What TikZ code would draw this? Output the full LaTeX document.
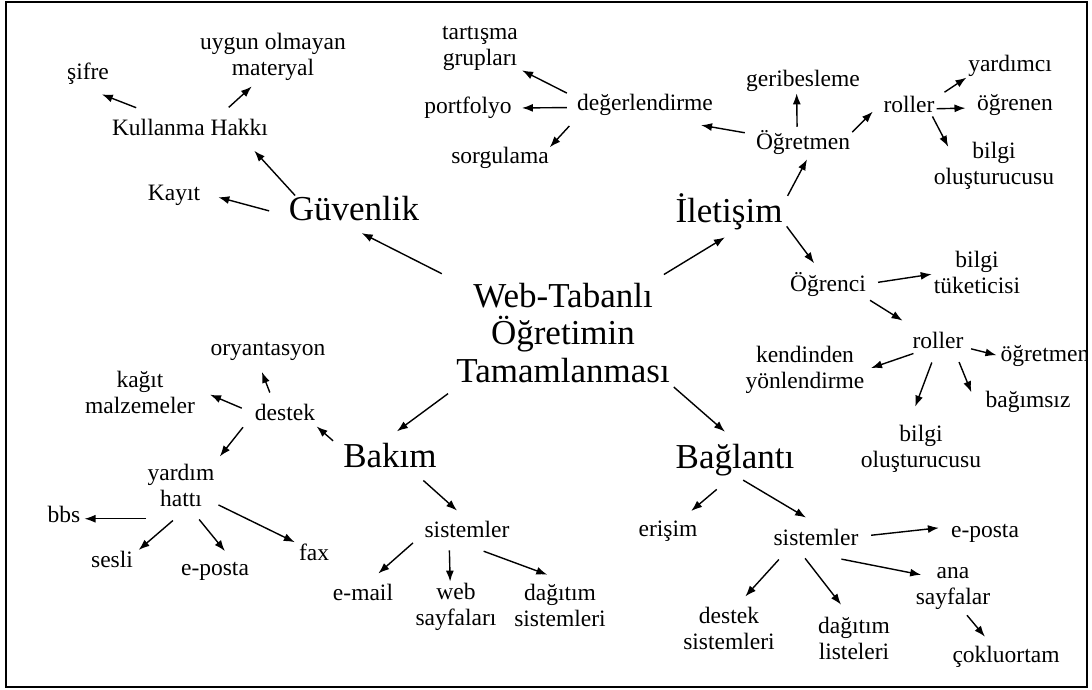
\documentclass[tikz,border=0pt]{standalone}
\usepackage{fontspec}
\setmainfont{Liberation Serif}
\usetikzlibrary{arrows.meta}

\begin{document}
\begin{tikzpicture}[x=1pt, y=-1pt,
    lbl/.style={font=\fontsize{23.5}{26}\selectfont, align=center, inner sep=4pt},
    big/.style={font=\fontsize{35}{37.5}\selectfont, align=center, inner sep=4pt},
    arr/.style={-{Latex[length=11pt, width=8pt]}, line width=1.4pt}]
    \useasboundingbox (0,0) rectangle (1092,689);

    \begin{scope}
    \clip (6,2) rectangle (1087,687);

    % Nodes
    \node (web) [big] at (563,333) {Web-Tabanlı\\Öğretimin\\Tamamlanması};
    \node (guvenlik) [big] at (354,209) {Güvenlik};
    \node (iletisim) [big] at (729,212) {İletişim};
    \node (bakim) [big] at (390,456) {Bakım};
    \node (baglanti) [big] at (735,460) {Bağlantı};

    \node (kullanma) [lbl] at (190,127) {Kullanma Hakkı};
    \node (sifre) [lbl] at (88,74) {şifre};
    \node (uygun) [lbl] at (273,57) {uygun olmayan\\materyal};
    \node (kayit) [lbl] at (174,195) {Kayıt};

    \node (degerlendirme) [lbl] at (645,105) {değerlendirme};
    \node (tartisma) [lbl] at (480,48) {tartışma\\grupları};
    \node (portfolyo) [lbl] at (468,108) {portfolyo};
    \node (sorgulama) [lbl] at (500,158) {sorgulama};
    \node (ogretmen) [lbl] at (803,143) {Öğretmen};
    \node (geribesleme) [lbl] at (803,81) {geribesleme};
    \node (rollerA) [lbl] at (909,104) {roller};
    \node (yardimci) [lbl] at (1010,66) {yardımcı};
    \node (ogrenen) [lbl] at (1015,105) {öğrenen};
    \node (bilgiA) [lbl] at (994,166) {bilgi\\oluşturucusu};
    \node (ogrenci) [lbl] at (828,285) {Öğrenci};
    \node (tuketici) [lbl] at (977,272) {bilgi\\tüketicisi};
    \node (rollerB) [lbl] at (938,340) {roller};
    \node (ogretmenB) [lbl] at (1045,356) {öğretmen};
    \node (kendinden) [lbl] at (805,370) {kendinden\\yönlendirme};
    \node (bilgiB) [lbl] at (921,449) {bilgi\\oluşturucusu};
    \node (bagimsiz) [lbl] at (1028,402) {bağımsız};

    \node (destek) [lbl] at (285,412) {destek};
    \node (oryantasyon) [lbl] at (268,351) {oryantasyon};
    \node (kagit) [lbl] at (140,392) {kağıt\\malzemeler};
    \node (yardim) [lbl] at (181,485) {yardım\\hattı};
    \node (bbs) [lbl] at (64,514) {bbs};
    \node (sesli) [lbl] at (112,559) {sesli};
    \node (epostaA) [lbl] at (215,571) {e-posta};
    \node (fax) [lbl] at (314,552) {fax};
    \node (sistemlerA) [lbl] at (467,529) {sistemler};
    \node (email) [lbl] at (363,592) {e-mail};
    \node (webs) [lbl] at (456,607) {web\\sayfaları};
    \node (dagitimA) [lbl] at (560,605) {dağıtım\\sistemleri};

    \node (erisim) [lbl] at (668,531) {erişim};
    \node (sistemlerB) [lbl] at (816,537) {sistemler};
    \node (epostaB) [lbl] at (985,533) {e-posta};
    \node (anasayfa) [lbl] at (953,588) {ana\\sayfalar};
    \node (cokluortam) [lbl] at (1006,657) {çokluortam};
    \node (destekS) [lbl] at (729,628) {destek\\sistemleri};
    \node (dagitimB) [lbl] at (854,638) {dağıtım\\listeleri};

    % Center
    \draw [arr, shorten <=11.7pt, shorten >=16.8pt] (web.154.7) -- (guvenlik.246.6);
    \draw [arr, shorten <=8.6pt, shorten >=5.7pt] (web.30) -- (iletisim.272.3);
    \draw [arr, shorten <=11.1pt, shorten >=13.7pt] (web.207.4) -- (bakim.104.4);
    \draw [arr, shorten >=12.4pt] (web.334.2) -- (baglanti.92);

    % Guvenlik
    \draw [arr, shorten <=-4pt, shorten >=15.2pt] (guvenlik.165.9) -- (kullanma.347.6);
    \draw [arr, shorten <=16.1pt, shorten >=14.5pt] (guvenlik.185.2) -- (kayit.3.4);
    \draw [arr, shorten <=18.9pt, shorten >=14.8pt] (kullanma.161.3) -- (sifre.270.8);
    \draw [arr, shorten <=10.6pt, shorten >=2.3pt] (kullanma.22.5) -- (uygun.235);

    % Iletisim
    \draw [arr, shorten <=2pt] (iletisim.14.6) -- (ogretmen.284.3);
    \draw [arr, shorten <=7.1pt, shorten >=30.7pt] (ogretmen.170.3) -- (degerlendirme.330.6);
    \draw [arr, shorten <=6.8pt] (degerlendirme.173) -- (tartisma.332.4);
    \draw [arr, shorten <=6pt, shorten >=6pt] (degerlendirme.182.4) -- (portfolyo.0);
    \draw [arr, shorten <=8.3pt, shorten >=-4.7pt] (degerlendirme.192.6) -- (sorgulama.15);
    \draw [arr, shorten >=-2.5pt] (ogretmen.110) -- (geribesleme.247.5);
    \draw [arr, shorten <=-2.7pt, shorten >=9.3pt] (ogretmen.14) -- (rollerA.182);
    \draw [arr, shorten <=7pt, shorten >=-2.9pt] (rollerA.15.9) -- (yardimci.196.2);
    \draw [arr, shorten <=-2pt, shorten >=7.5pt] (rollerA.351.3) -- (ogrenen.184.1);
    \draw [arr, shorten >=-9.7pt] (rollerA.332.4) -- (bilgiA.151);
    \draw [arr, shorten >=6.8pt] (iletisim.346.8) -- (ogrenci.121.2);
    \draw [arr, shorten <=8.1pt, shorten >=-2pt] (ogrenci.2.6) -- (tuketici.183.9);
    \draw [arr, shorten >=13pt] (ogrenci.340.3) -- (rollerB.153.4);
    \draw [arr, shorten <=3.6pt] (rollerB.345) -- (ogretmenB.179.3);
    \draw [arr, shorten <=3.1pt, shorten >=2.6pt] (rollerB.210.8) -- (kendinden.1);
    \draw [arr, shorten <=10.7pt, shorten >=15.5pt] (rollerB.259.6) -- (bilgiB.112.7);
    \draw [arr, shorten <=10.4pt, shorten >=26.5pt] (rollerB.324.8) -- (bagimsiz.south west);

    % Bakim
    \draw [arr, shorten <=8pt, shorten >=3pt] (bakim.169.2) -- (destek.337.3);
    \draw [arr, shorten <=7.5pt, shorten >=8.1pt] (destek.135.7) -- (oryantasyon.236.4);
    \draw [arr, shorten <=9.8pt, shorten >=12pt] (destek.180) -- (kagit.2.7);
    \draw [arr, shorten <=12.5pt, shorten >=3.9pt] (destek.189) -- (yardim.35.9);
    \draw [arr, shorten <=-2.5pt] (bbs.347 -| yardim.south west) -- (bbs.347);
    \draw [arr, shorten <=15.4pt, shorten >=2pt] (yardim.278.4) -- (sesli.17.4);
    \draw [arr, shorten <=11.6pt, shorten >=8.5pt] (yardim.293.2) -- (epostaA.41);
    \draw [arr] (yardim.332.3) -- (fax.153.4);
    \draw [arr, shorten <=11.9pt, shorten >=8.9pt] (bakim.326.5) -- (sistemlerA.105.8);
    \draw [arr, shorten <=9.9pt, shorten >=9.2pt] (sistemlerA.189.4) -- (email.56.3);
    \draw [arr, shorten <=9pt, shorten >=-2.5pt] (sistemlerA.215.2) -- (webs.102.3);
    \draw [arr, shorten <=28.1pt, shorten >=14pt] (sistemlerA.232.2) -- (dagitimA.89.8);

    % Baglanti
    \draw [arr, shorten <=14.3pt, shorten >=8.5pt] (baglanti.250.2) -- (erisim.41.3);
    \draw [arr, shorten >=13.6pt] (baglanti.292.1) -- (sistemlerB.82.4);
    \draw [arr, shorten <=8.5pt, shorten >=8pt] (sistemlerB.1.5) -- (epostaB.171.1);
    \draw [arr, shorten <=49.8pt, shorten >=-9.7pt] (sistemlerB.208.9) -- (anasayfa.160.1);
    \draw [arr, shorten <=2.6pt, shorten >=7.1pt] (anasayfa.296.4) -- (cokluortam.138.7);
    \draw [arr, shorten <=13.6pt, shorten >=8.2pt] (sistemlerB.204.1) -- (destekS.67.2);
    \draw [arr, shorten <=11.2pt, shorten >=10pt] (sistemlerB.215.7) -- (dagitimB.105.6);
    \end{scope}

    % Frame
    \draw [line width=2.5pt] (6,2) rectangle (1087,687);
\end{tikzpicture}
\end{document}
